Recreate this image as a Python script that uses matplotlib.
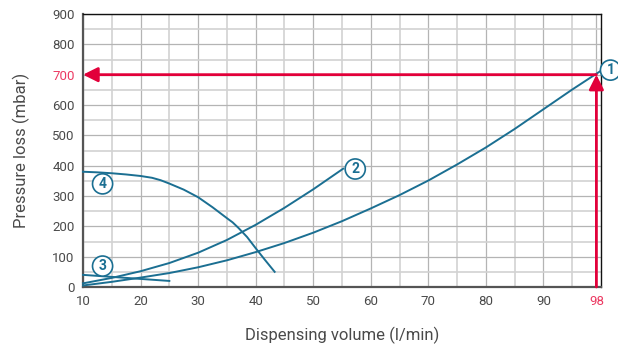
import matplotlib.pyplot as plt
import numpy as np

# curve data (x in l/min, y in mbar)
curve1_x = [10, 15, 20, 25, 30, 35, 40, 45, 50, 55, 60, 65, 70, 75, 80, 85, 90, 95, 100]
curve1_y = [5, 17, 31, 46, 65, 88, 115, 145, 179, 217, 259, 303, 351, 404, 460, 521, 586, 651, 713]

curve2_x = [10, 15, 20, 25, 30, 35, 40, 45, 50, 55.2]
curve2_y = [12, 30, 52, 79, 113, 155, 205, 261, 322, 390]

curve3_x = [10, 25]
curve3_y = [40, 20]

curve4_x = [10, 12.5, 15, 17.5, 20, 22, 23.5, 25, 27.5, 30, 32.5, 35, 36, 37, 38.5, 40, 41.5, 43.3]
curve4_y = [380, 378, 375, 371, 366, 360, 352, 341, 321, 296, 263, 227, 213, 195, 165, 128, 92, 50]

curves = [(curve1_x, curve1_y), (curve2_x, curve2_y), (curve3_x, curve3_y), (curve4_x, curve4_y)]

# numbered markers: label, x, y
marker_labels = ['1', '2', '3', '4']
marker_x = [101.65, 57.3, 13.4, 13.4]
marker_y = [715, 389, 69, 340]

# operating point
op_x = 99.2
op_y = 700
op_xlabel = '98'

x_ticks = [10, 20, 30, 40, 50, 60, 70, 80, 90]
y_ticks = [0, 100, 200, 300, 400, 500, 600, 700, 800, 900]

blue = '#1b6f92'
red = '#e2003a'
pink = '#ec3a62'
gray = '#4a4a4a'

plt.rcParams['font.family'] = ['Roboto', 'DejaVu Sans']

fig = plt.figure(figsize=(6.18, 3.49), dpi=100)
ax = fig.add_axes([83/618, 1 - 287/349, (601-83)/618, (287-14)/349])

ax.set_xlim(10, 100)
ax.set_ylim(0, 900)

# grid
ax.set_xticks(np.arange(15, 100, 10), minor=True)
ax.set_yticks(np.arange(50, 900, 100), minor=True)
ax.set_xticks(x_ticks + [op_x])
ax.set_xticklabels([str(t) for t in x_ticks] + [op_xlabel])
ax.set_yticks(y_ticks)
ax.set_yticklabels([str(t) for t in y_ticks])
ax.grid(True, which='major', color='#b4b4b4', linewidth=0.9)
ax.grid(True, which='minor', color='#d2d2d2', linewidth=1.2)
ax.set_axisbelow(True)
ax.tick_params(which='both', length=0, labelsize=9.5, colors=gray, pad=6)
ax.get_xticklabels()[-1].set_color(pink)
ax.get_yticklabels()[7].set_color(pink)

for s in ['left', 'bottom']:
    ax.spines[s].set_color('#555555')
    ax.spines[s].set_linewidth(1.6)
for s in ['top', 'right']:
    ax.spines[s].set_color('#111111')
    ax.spines[s].set_linewidth(1.0)

for cx, cy in curves:
    ax.plot(cx, cy, color=blue, linewidth=1.4, zorder=3, clip_on=False,
            solid_joinstyle='round')

# red operating point arrows
ax.annotate('', xy=(10, op_y), xytext=(op_x, op_y),
            arrowprops=dict(arrowstyle='-|>', color=red, lw=2, mutation_scale=22,
                            shrinkA=0, shrinkB=0), zorder=4)
ax.annotate('', xy=(op_x, op_y), xytext=(op_x, 0),
            arrowprops=dict(arrowstyle='-|>', color=red, lw=2, mutation_scale=22,
                            shrinkA=0, shrinkB=0), zorder=4)

for lab, mx, my in zip(marker_labels, marker_x, marker_y):
    ax.text(mx, my, lab, color=blue, fontsize=10, fontweight='bold',
            ha='center', va='center', zorder=5, clip_on=False,
            bbox=dict(boxstyle='circle,pad=0.22', fc='white', ec=blue, lw=1.2))

ax.set_xlabel('Dispensing volume (l/min)', fontsize=12, color=gray, labelpad=13)
ax.set_ylabel('Pressure loss (mbar)', fontsize=12, color=gray, labelpad=16)

fig.savefig('out.png', dpi=100)
